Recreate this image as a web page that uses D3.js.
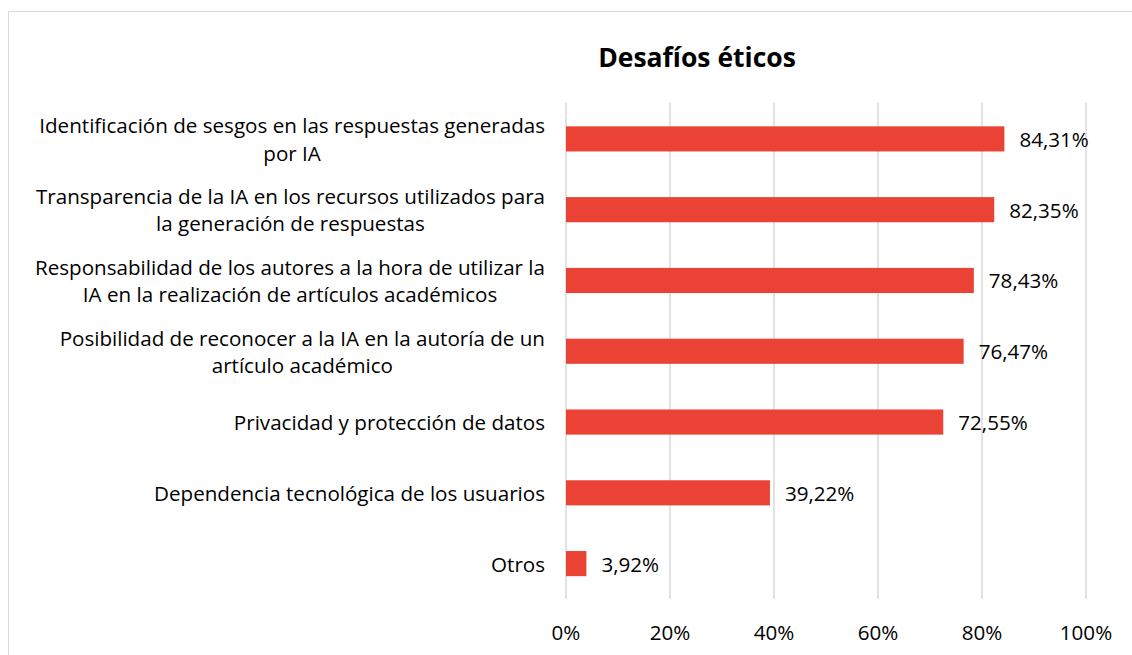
<!DOCTYPE html>
<html>
<head>
<meta charset="utf-8">
<script src="https://cdn.jsdelivr.net/npm/d3@7"></script>
<style>
  body { margin: 0; background: #fff; }
  svg text { font-family: "Open Sans", sans-serif; fill: #000; }
</style>
</head>
<body>
<div class="container"></div>
<script>
var categories = [
    ["Identificación de sesgos en las respuestas generadas", "por IA"],
    ["Transparencia de la IA en los recursos utilizados para", "la generación de respuestas"],
    ["Responsabilidad de los autores a la hora de utilizar la", "IA en la realización de artículos académicos"],
    ["Posibilidad de reconocer a la IA en la autoría de un", "artículo académico"],
    ["Privacidad y protección de datos"],
    ["Dependencia tecnológica de los usuarios"],
    ["Otros"]
];
var values = [84.31, 82.35, 78.43, 76.47, 72.55, 39.22, 3.92];
var ticks = [0, 20, 40, 60, 80, 100];
var title = "Desafíos éticos";

var width = 1132, height = 655;
var fs = "20.6px";
var svg = d3.select(".container").append("svg")
    .attr("width", width)
    .attr("height", height);

// chart frame
svg.append("rect")
    .attr("x", 8.5).attr("y", 11.5)
    .attr("width", 1140).attr("height", 700)
    .attr("fill", "none")
    .attr("stroke", "#d9d9d9")
    .attr("stroke-width", 1);

var x = d3.scaleLinear().domain([0, 100]).range([566, 1086]);
var y = d3.scaleBand()
    .domain(d3.range(categories.length))
    .range([103.5, 599])
    .paddingInner(0.645)
    .paddingOuter(0.3225);

svg.append("text")
    .attr("x", 697).attr("y", 57)
    .attr("text-anchor", "middle")
    .attr("dominant-baseline", "central")
    .style("font-size", "26.5px")
    .style("font-weight", "bold")
    .text(title);

// gridlines
svg.selectAll(".grid")
    .data(ticks)
    .enter()
    .append("line")
    .attr("x1", d => x(d)).attr("x2", d => x(d))
    .attr("y1", 103).attr("y2", 599)
    .attr("stroke", "#d9d9d9")
    .attr("stroke-width", 1.5);

// tick labels
svg.selectAll(".tick")
    .data(ticks)
    .enter()
    .append("text")
    .attr("x", d => x(d))
    .attr("y", 632)
    .attr("text-anchor", "middle")
    .attr("dominant-baseline", "central")
    .style("font-size", fs)
    .text(d => d + "%");

// bars
svg.selectAll(".bar")
    .data(values)
    .enter()
    .append("rect")
    .attr("x", x(0))
    .attr("y", (d, i) => y(i))
    .attr("width", d => x(d) - x(0))
    .attr("height", y.bandwidth())
    .attr("fill", "#EA4335");

// value labels
svg.selectAll(".val")
    .data(values)
    .enter()
    .append("text")
    .attr("x", d => x(d) + 15)
    .attr("y", (d, i) => y(i) + y.bandwidth() / 2)
    .attr("dominant-baseline", "central")
    .style("font-size", fs)
    .text(d => d.toFixed(2).replace(".", ",") + "%");

// category labels
var labels = svg.selectAll(".cat")
    .data(categories)
    .enter()
    .append("text")
    .attr("text-anchor", "middle")
    .style("font-size", fs);

labels.each(function (lines, i) {
    var cy = y(i) + y.bandwidth() / 2;
    var lh = 27.5;
    var t = d3.select(this);
    lines.forEach(function (line, k) {
        t.append("tspan")
            .attr("x", 0)
            .attr("y", cy + (k - (lines.length - 1) / 2) * lh)
            .attr("dominant-baseline", "central")
            .text(line);
    });
});

// center multi-line labels on their widest line, right edge at 545
labels.each(function () {
    var bb = this.getBBox();
    var right = 545;
    d3.select(this).attr("transform", "translate(" + (right - bb.width / 2) + ",0)");
});
</script>
</body>
</html>
